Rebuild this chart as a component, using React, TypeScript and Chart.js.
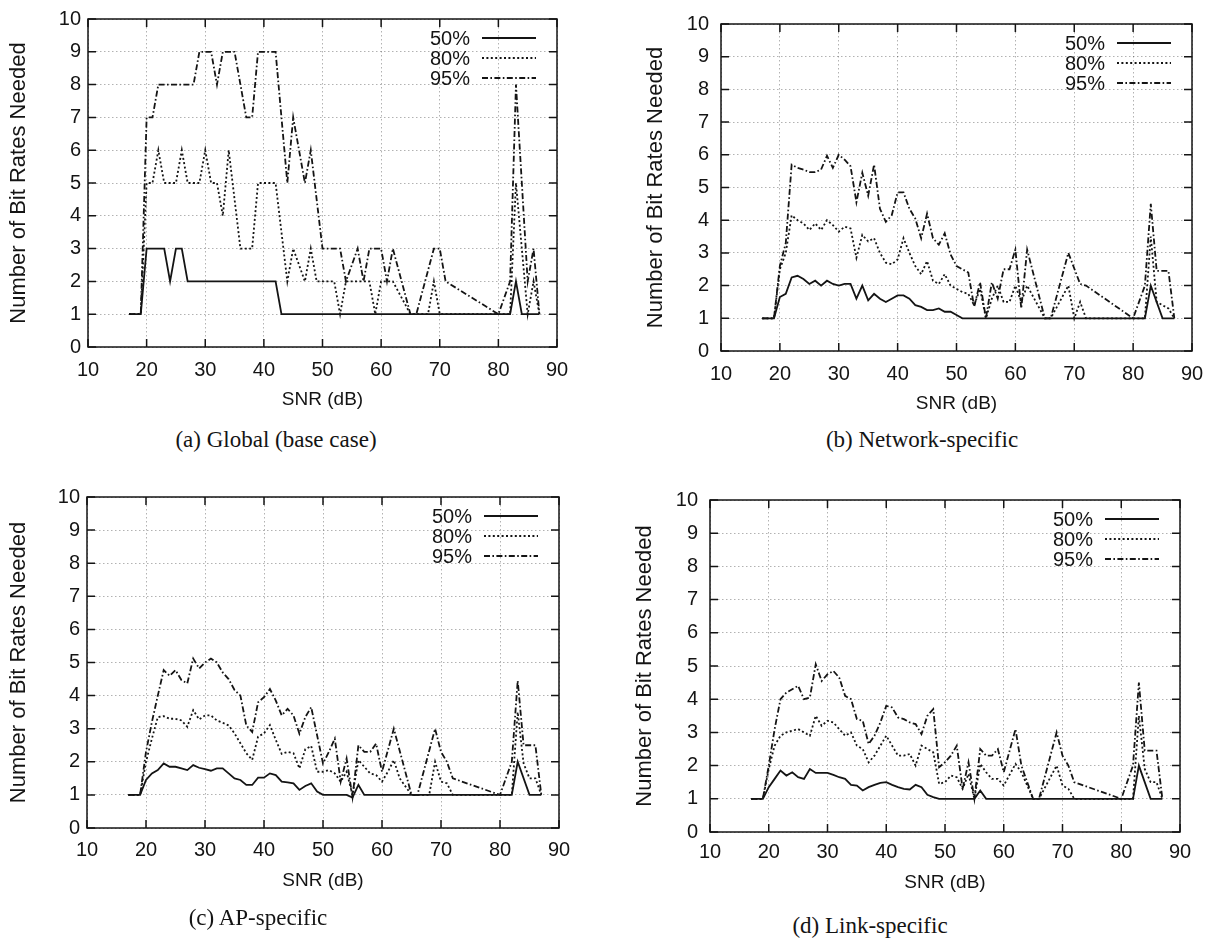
import React, { useEffect, useRef } from "react";
import { Chart, registerables } from "chart.js";

Chart.register(...registerables);

type Point = [number, number];

// Series names, in legend order
const percentileLabels = ["50%", "80%", "95%"];

// Axis ranges and tick steps
const snrRange = [10, 90];
const snrStep = 10;
const rateRange = [0, 10];
const rateStep = 1;

// (a) Global (base case): [SNR dB, bit rates needed]
const globalP50: Point[] = [[17,1],[19,1],[20,3],[23,3],[24,2],[25,3],[26,3],[27,2],[42,2],[43,1],[82,1],[83,2],[84,1],[87,1]];
const globalP80: Point[] = [[17,1],[19,1],[20,5],[21,5],[22,6],[23,5],[25,5],[26,6],[27,5],[29,5],[30,6],[31,5],[32,5],[33,4],[34,6],[36,3],[38,3],[39,5],[42,5],[44,2],[45,3],[47,2],[48,3],[49,2],[52,2],[53,1],[54,2],[58,2],[59,1],[60,2],[62,2],[65,1],[68,1],[69,2],[70,1],[82,1],[83,5],[85,1],[86,2],[87,1]];
const globalP95: Point[] = [[17,1],[19,1],[20,7],[21,7],[22,8],[28,8],[29,9],[31,9],[32,8],[33,9],[35,9],[37,7],[38,7],[39,9],[42,9],[44,5],[45,7],[47,5],[48,6],[50,3],[53,3],[54,2],[56,3],[57,2],[58,3],[60,3],[61,2],[62,3],[65,1],[66,1],[69,3],[70,3],[71,2],[80,1],[82,2],[83,8],[85,2],[86,3],[87,1]];

// (b) Network-specific
const networkP50: Point[] = [[17,1],[19,1],[20,1.65],[21,1.75],[22,2.25],[23,2.3],[24,2.2],[25,2.05],[26,2.15],[27,2.0],[28,2.15],[29,2.05],[30,2.0],[31,2.05],[32,2.05],[33,1.6],[34,2.0],[35,1.55],[36,1.75],[37,1.6],[38,1.5],[39,1.6],[40,1.7],[41,1.7],[42,1.6],[43,1.4],[44,1.35],[45,1.25],[46,1.25],[47,1.3],[48,1.2],[49,1.2],[50,1.1],[51,1],[82,1],[83,2],[85,1],[87,1]];
const networkP80: Point[] = [[17,1],[19,1],[20,2.5],[21,3.0],[22,4.15],[23,4.0],[24,3.9],[25,3.7],[26,3.9],[27,3.7],[28,4.0],[29,3.85],[30,3.65],[31,3.8],[32,3.75],[33,2.85],[34,3.55],[35,3.35],[36,3.45],[37,3.0],[38,2.7],[39,2.65],[40,2.8],[41,3.45],[42,3.0],[43,2.6],[44,2.35],[45,2.75],[46,2.15],[47,2.05],[48,2.35],[49,2.0],[50,1.9],[51,1.8],[52,1.75],[53,1.4],[54,1.9],[55,1],[56,1.6],[57,2.0],[58,1.5],[59,1.5],[60,2.0],[61,1.5],[62,2.0],[65,1],[66,1],[69,2],[70,1],[71,1.5],[72,1],[82,1],[83,3.5],[84,1.5],[86,1.3],[87,1]];
const networkP95: Point[] = [[17,1],[19,1],[20,2.6],[21,3.3],[22,5.7],[23,5.6],[24,5.55],[25,5.47],[26,5.47],[27,5.55],[28,5.97],[29,5.6],[30,6.0],[31,5.85],[32,5.65],[33,4.55],[34,5.45],[35,4.75],[36,5.7],[37,4.35],[38,3.95],[39,4.15],[40,4.85],[41,4.85],[42,4.35],[43,4.05],[44,3.45],[45,4.2],[46,3.45],[47,3.25],[48,3.6],[49,2.95],[50,2.6],[51,2.5],[52,2.4],[53,1.35],[54,2.1],[55,1],[56,2.1],[57,1.6],[58,2.5],[59,2.5],[60,3.1],[61,1.3],[62,3.1],[65,1],[66,1],[69,3],[71,2.05],[72,2.0],[80,1],[82,2],[83,4.5],[84,2.45],[86,2.45],[87,1]];

// (c) AP-specific
const apP50: Point[] = [[17,1],[19,1],[20,1.45],[21,1.65],[22,1.75],[23,1.95],[24,1.85],[25,1.85],[26,1.8],[27,1.75],[28,1.9],[29,1.82],[30,1.78],[31,1.73],[32,1.8],[33,1.8],[34,1.65],[35,1.5],[36,1.45],[37,1.3],[38,1.3],[39,1.52],[40,1.52],[41,1.65],[42,1.6],[43,1.4],[44,1.38],[45,1.35],[46,1.15],[47,1.27],[48,1.35],[49,1.1],[50,1],[54,1],[55,0.92],[56,1.3],[57,1],[82,1],[83,2],[85,1],[87,1]];
const apP80: Point[] = [[17,1],[19,1],[20,2.0],[21,2.7],[22,3.35],[23,3.38],[24,3.3],[25,3.3],[26,3.25],[27,3.06],[28,3.56],[29,3.28],[30,3.4],[31,3.4],[32,3.25],[33,3.18],[34,3.1],[35,2.86],[36,2.56],[37,2.26],[38,2.06],[39,2.76],[40,2.86],[41,3.11],[42,2.66],[43,2.24],[44,2.3],[45,2.26],[46,1.8],[47,2.38],[48,2.48],[49,1.7],[50,1.7],[51,1.75],[52,1.65],[53,1.4],[54,1.7],[55,1],[56,2.05],[57,1.85],[58,1.65],[59,1.6],[60,1.4],[61,1.7],[62,2.05],[63,1.5],[65,1],[68,1],[69,2],[70,1.4],[71,1.35],[72,1],[82,1],[83,3.5],[84,1.95],[85,1.5],[86,1.5],[87,1]];
const apP95: Point[] = [[17,1],[19,1],[20,2.3],[21,3.2],[22,4.0],[23,4.77],[24,4.6],[25,4.77],[26,4.47],[27,4.37],[28,5.12],[29,4.82],[30,5.0],[31,5.12],[32,5.0],[33,4.7],[34,4.5],[35,4.17],[36,4.0],[37,3.1],[38,2.9],[39,3.8],[40,3.95],[41,4.2],[42,3.85],[43,3.4],[44,3.6],[45,3.4],[46,2.85],[47,3.35],[48,3.65],[50,1.95],[51,2.3],[52,2.7],[53,1.4],[54,2.1],[55,0.93],[56,2.5],[57,2.3],[58,2.3],[59,2.55],[60,1.7],[62,3.0],[65,1],[66,1],[69,3.0],[70,2.3],[71,2.0],[72,1.5],[80,1],[82,2],[83,4.45],[84,2.5],[86,2.5],[87,1]];

// (d) Link-specific
const linkP50: Point[] = [[17,1],[19,1],[20,1.35],[21,1.6],[22,1.85],[23,1.7],[24,1.8],[25,1.65],[26,1.6],[27,1.9],[28,1.78],[29,1.78],[30,1.78],[31,1.72],[32,1.65],[33,1.6],[34,1.42],[35,1.4],[36,1.25],[37,1.35],[38,1.42],[39,1.48],[40,1.5],[41,1.42],[42,1.35],[43,1.3],[44,1.28],[45,1.42],[46,1.35],[47,1.12],[48,1.05],[49,1],[55,1],[56,1.25],[57,1],[82,1],[83,2],[85,1],[87,1]];
const linkP80: Point[] = [[17,1],[19,1],[20,1.9],[21,2.6],[22,2.9],[23,3.0],[24,3.05],[25,3.1],[26,3.0],[27,2.9],[28,3.5],[29,3.2],[30,3.35],[31,3.3],[32,3.1],[33,2.9],[34,3.0],[35,2.6],[36,2.5],[37,2.1],[38,2.3],[39,2.6],[40,2.9],[41,2.6],[42,2.3],[43,2.3],[44,2.35],[45,2.0],[46,2.6],[47,2.5],[48,2.4],[49,1.45],[50,1.5],[51,1.7],[52,1.65],[53,1.3],[54,1.75],[55,1],[56,2.05],[57,1.8],[58,1.6],[59,1.6],[60,1.4],[62,2.05],[63,1.8],[65,1],[66,1],[69,2.0],[70,1.4],[71,1.3],[72,1],[82,1],[83,3.5],[84,1.9],[85,1.5],[86,1.5],[87,1]];
const linkP95: Point[] = [[17,1],[19,1],[20,2.0],[21,3.1],[22,4.0],[23,4.2],[24,4.3],[25,4.4],[26,4.0],[27,4.05],[28,5.05],[29,4.55],[30,4.75],[31,4.85],[32,4.65],[33,4.1],[34,4.0],[35,3.4],[36,3.35],[37,2.65],[38,2.9],[39,3.3],[40,3.8],[41,3.75],[42,3.45],[43,3.4],[44,3.3],[45,3.25],[46,2.95],[47,3.5],[48,3.7],[49,1.95],[50,2.1],[51,2.3],[52,2.6],[53,1.3],[54,2.1],[55,1],[56,2.5],[57,2.3],[58,2.3],[59,2.5],[60,1.8],[62,3.1],[63,2.0],[65,1],[66,1],[69,3.0],[70,2.3],[71,2.0],[72,1.5],[80,1],[82,2],[83,4.5],[84,2.45],[86,2.45],[87,1]];

const xTitle = "SNR (dB)";
const yTitle = "Number of Bit Rates Needed";

const SANS = "'Liberation Sans', Arial, Helvetica, sans-serif";
const SERIF = "'Liberation Serif', 'Times New Roman', Times, serif";
const INK = "#141414";
const GRID = "rgba(0,0,0,0.3)";
// gnuplot line types: solid, dotted, dash-dot
const DASHES: number[][] = [[], [2, 2.4], [6, 2.4, 1.6, 2.4]];

const TICK_SIZE = 20;
const XTITLE_SIZE = 19;
const YTITLE_SIZE = 22;
const LEGEND_SIZE = 20;
const LINE_W = 1.8;

type Box = { x: number; y: number; w: number; h: number };
type Area = { l: number; t: number; r: number; b: number };

type PanelSpec = {
  key: string;
  caption: string;
  captionX: number;
  captionY: number;
  series: Point[][];
  canvas: Box;
  plot: Area;
  xLabelY: number;
  xTitleY: number;
  yTitleX: number;
  yLabelGap: number;
};

const panels: PanelSpec[] = [
  {
    key: "a", caption: "(a) Global (base case)", captionX: 276, captionY: 440,
    series: [globalP50, globalP80, globalP95],
    canvas: { x: 0, y: 0, w: 600, h: 425 },
    plot: { l: 88, t: 14, r: 557, b: 347 },
    xLabelY: 370, xTitleY: 400, yTitleX: 19, yLabelGap: 7,
  },
  {
    key: "b", caption: "(b) Network-specific", captionX: 922, captionY: 440,
    series: [networkP50, networkP80, networkP95],
    canvas: { x: 600, y: 0, w: 617, h: 425 },
    plot: { l: 721, t: 19, r: 1192, b: 351 },
    xLabelY: 374, xTitleY: 404, yTitleX: 656, yLabelGap: 12,
  },
  {
    key: "c", caption: "(c) AP-specific", captionX: 258, captionY: 918,
    series: [apP50, apP80, apP95],
    canvas: { x: 0, y: 470, w: 600, h: 440 },
    plot: { l: 87, t: 497, r: 559, b: 828 },
    xLabelY: 850, xTitleY: 881, yTitleX: 19, yLabelGap: 7,
  },
  {
    key: "d", caption: "(d) Link-specific", captionX: 870, captionY: 926,
    series: [linkP50, linkP80, linkP95],
    canvas: { x: 600, y: 470, w: 617, h: 440 },
    plot: { l: 710, t: 500, r: 1180, b: 832 },
    xLabelY: 852, xTitleY: 883, yTitleX: 645, yLabelGap: 12,
  },
];

// Border, inward mirrored tick marks and the in-plot key, gnuplot style
const gnuplotFrame = {
  id: "gnuplotFrame",
  afterDraw(chart: any) {
    const { ctx, chartArea: a, scales } = chart;
    const tick = 8;
    ctx.save();
    ctx.strokeStyle = INK;
    ctx.lineWidth = 1.5;
    ctx.setLineDash([]);
    ctx.strokeRect(a.left, a.top, a.right - a.left, a.bottom - a.top);
    ctx.beginPath();
    for (const t of scales.x.ticks) {
      const px = scales.x.getPixelForValue(t.value);
      ctx.moveTo(px, a.bottom); ctx.lineTo(px, a.bottom - tick);
      ctx.moveTo(px, a.top); ctx.lineTo(px, a.top + tick);
    }
    for (const t of scales.y.ticks) {
      const py = scales.y.getPixelForValue(t.value);
      ctx.moveTo(a.left, py); ctx.lineTo(a.left + tick, py);
      ctx.moveTo(a.right, py); ctx.lineTo(a.right - tick, py);
    }
    ctx.stroke();

    ctx.font = `${LEGEND_SIZE}px ${SANS}`;
    ctx.fillStyle = INK;
    ctx.textAlign = "right";
    ctx.textBaseline = "middle";
    chart.data.datasets.forEach((ds: any, i: number) => {
      const y = a.top + 19 + 20 * i;
      ctx.fillText(ds.label, a.right - 87, y + 1);
      ctx.beginPath();
      ctx.lineWidth = LINE_W;
      ctx.setLineDash(DASHES[i]);
      ctx.moveTo(a.right - 75, y);
      ctx.lineTo(a.right - 21, y);
      ctx.stroke();
    });
    ctx.restore();
  },
};

function Panel({ spec }: { spec: PanelSpec }) {
  const ref = useRef<HTMLCanvasElement | null>(null);

  useEffect(() => {
    const canvas = ref.current;
    if (!canvas) return;
    const { canvas: cb, plot } = spec;
    const tickLH = TICK_SIZE * 1.2;
    const xTitleLH = XTITLE_SIZE * 1.2;
    const yTitleLH = YTITLE_SIZE * 1.2;
    const xAxisH = spec.xTitleY + xTitleLH / 2 - plot.b;
    const yAxisW = plot.l - cb.x;

    const chart = new Chart(canvas, {
      type: "line",
      data: {
        datasets: spec.series.map((pts, i) => ({
          label: percentileLabels[i],
          data: pts.map(([x, y]) => ({ x, y })),
          borderColor: INK,
          borderWidth: LINE_W,
          borderDash: DASHES[i],
          pointRadius: 0,
          pointHoverRadius: 0,
          tension: 0,
          fill: false,
          spanGaps: true,
        })),
      },
      options: {
        responsive: false,
        animation: false,
        devicePixelRatio: 1,
        events: [],
        layout: {
          padding: {
            left: 0,
            top: plot.t - cb.y,
            right: cb.x + cb.w - plot.r,
            bottom: cb.y + cb.h - plot.b - xAxisH,
          },
        },
        plugins: { legend: { display: false }, tooltip: { enabled: false } },
        scales: {
          x: {
            type: "linear",
            min: snrRange[0],
            max: snrRange[1],
            ticks: {
              stepSize: snrStep,
              autoSkip: false,
              maxRotation: 0,
              color: INK,
              font: { family: SANS, size: TICK_SIZE },
              padding: spec.xLabelY - plot.b - tickLH / 2,
            },
            grid: { color: GRID, lineWidth: 1, drawTicks: false },
            border: { display: false, dash: [1.5, 2.5] },
            title: {
              display: true,
              text: xTitle,
              color: INK,
              font: { family: SANS, size: XTITLE_SIZE },
              padding: { top: 0, bottom: 0 },
            },
            afterFit: (s: any) => { s.height = xAxisH; },
          },
          y: {
            type: "linear",
            min: rateRange[0],
            max: rateRange[1],
            ticks: {
              stepSize: rateStep,
              autoSkip: false,
              color: INK,
              font: { family: SANS, size: TICK_SIZE },
              padding: spec.yLabelGap,
            },
            grid: { color: GRID, lineWidth: 1, drawTicks: false },
            border: { display: false, dash: [1.5, 2.5] },
            title: {
              display: true,
              text: yTitle,
              color: INK,
              font: { family: SANS, size: YTITLE_SIZE },
              padding: { top: spec.yTitleX - cb.x - yTitleLH / 2, bottom: 0 },
            },
            afterFit: (s: any) => { s.width = yAxisW; },
          },
        },
      },
      plugins: [gnuplotFrame],
    } as any);

    return () => chart.destroy();
  }, [spec]);

  return (
    <canvas
      ref={ref}
      width={spec.canvas.w}
      height={spec.canvas.h}
      style={{ position: "absolute", left: spec.canvas.x, top: spec.canvas.y, width: spec.canvas.w, height: spec.canvas.h }}
    />
  );
}

export default function App() {
  return (
    <div style={{ position: "absolute", left: 0, top: 0, width: 1217, height: 943, background: "#fff", overflow: "hidden" }}>
      {panels.map((p) => (
        <Panel key={p.key} spec={p} />
      ))}
      {panels.map((p) => (
        <div
          key={`cap-${p.key}`}
          style={{
            position: "absolute",
            left: p.captionX,
            top: p.captionY - 13,
            transform: "translateX(-50%)",
            whiteSpace: "nowrap",
            fontFamily: SERIF,
            fontSize: 23,
            lineHeight: "26px",
            color: INK,
          }}
        >
          {p.caption}
        </div>
      ))}
    </div>
  );
}
